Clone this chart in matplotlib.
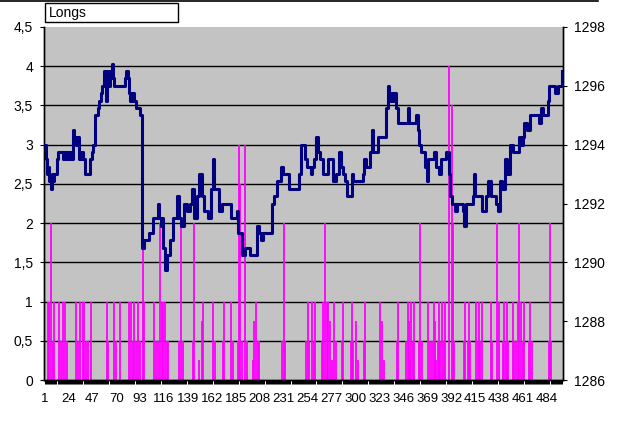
import numpy as np
import matplotlib
matplotlib.use("Agg")
import matplotlib.pyplot as plt
from matplotlib.lines import Line2D
from matplotlib.patches import Rectangle

# price line (right axis): category number -> price
price_cat = [1, 2, 3, 4, 5, 7, 8, 9, 10, 12, 13, 14, 16, 18, 19, 21, 23, 25, 26, 28,
             29, 31, 33, 34, 36, 38, 39, 40, 42, 43, 45, 46, 47, 48, 50, 52, 53, 55, 56, 57,
             58, 59, 60, 61, 62, 63, 64, 65, 66, 67, 68, 72, 77, 78, 79, 80, 81, 82, 83, 85,
             87, 89, 90, 91, 93, 94, 95, 96, 97, 99, 101, 103, 105, 107, 109, 110, 111, 113, 114, 115,
             117, 119, 122, 125, 128, 130, 132, 135, 138, 141, 143, 145, 148, 150, 152, 154, 156, 158, 161, 163,
             164, 167, 169, 172, 175, 177, 180, 183, 186, 187, 189, 191, 194, 197, 199, 204, 205, 207, 209, 211,
             218, 220, 222, 225, 228, 230, 233, 236, 242, 246, 248, 251, 253, 255, 257, 258, 260, 262, 263, 264,
             266, 268, 269, 273, 274, 276, 278, 281, 284, 286, 288, 290, 292, 295, 297, 298, 305, 307, 308, 310,
             313, 314, 316, 317, 321, 322, 327, 329, 331, 332, 334, 336, 337, 339, 340, 341, 343, 345, 348, 350,
             351, 356, 358, 360, 361, 363, 365, 367, 369, 370, 374, 375, 377, 379, 380, 382, 385, 387, 389, 390,
             391, 393, 396, 398, 401, 403, 404, 406, 411, 413, 414, 415, 417, 418, 420, 422, 423, 425, 427, 428,
             430, 432, 435, 437, 438, 439, 441, 444, 446, 449, 451, 454, 456, 457, 459, 461, 462, 464, 465, 466,
             468, 470, 473, 475, 476, 478, 480, 483, 485, 486, 490, 492, 494, 495, 497, 499]
price = [1294.0, 1293.5, 1293.0, 1293.25, 1292.75, 1292.5, 1293.0, 1292.75, 1293.0, 1293.0,
         1293.5, 1293.75, 1293.75, 1293.75, 1293.5, 1293.75, 1293.5, 1293.75, 1293.5, 1294.5,
         1294.25, 1294.0, 1294.25, 1293.5, 1293.75, 1293.5, 1293.5, 1293.0, 1293.0, 1293.0,
         1293.5, 1293.5, 1293.75, 1294.0, 1295.0, 1295.25, 1295.5, 1295.75, 1296.0, 1296.0,
         1296.5, 1296.25, 1295.5, 1296.5, 1296.25, 1296.0, 1296.5, 1296.25, 1296.75, 1296.25,
         1296.0, 1296.0, 1296.0, 1296.25, 1296.5, 1296.5, 1296.25, 1295.75, 1295.5, 1295.75,
         1295.5, 1295.25, 1295.25, 1295.25, 1295.0, 1295.0, 1290.5, 1290.5, 1290.75, 1290.75,
         1291.0, 1291.0, 1291.5, 1291.5, 1291.5, 1292.0, 1291.5, 1291.25, 1291.5, 1290.5,
         1289.75, 1290.25, 1290.75, 1291.5, 1292.25, 1291.5, 1291.25, 1292.0, 1291.75, 1292.0,
         1292.5, 1291.5, 1292.25, 1293.0, 1292.25, 1291.75, 1291.75, 1291.5, 1292.5, 1293.5,
         1292.5, 1292.5, 1291.75, 1292.0, 1292.0, 1292.0, 1291.5, 1291.5, 1291.75, 1291.0,
         1291.0, 1290.25, 1290.5, 1290.5, 1290.25, 1290.25, 1291.25, 1291.0, 1290.75, 1291.0,
         1291.0, 1292.0, 1292.25, 1292.75, 1293.25, 1293.0, 1293.0, 1292.5, 1292.5, 1293.0,
         1294.0, 1293.5, 1293.25, 1293.25, 1293.0, 1293.25, 1293.5, 1294.25, 1294.25, 1293.75,
         1293.5, 1293.5, 1293.0, 1293.0, 1293.5, 1293.5, 1292.75, 1293.0, 1293.75, 1293.25,
         1293.0, 1292.75, 1292.25, 1292.25, 1293.0, 1292.75, 1292.75, 1293.0, 1293.5, 1293.25,
         1293.25, 1293.75, 1294.5, 1293.75, 1293.75, 1294.25, 1294.25, 1295.25, 1296.0, 1295.5,
         1295.75, 1295.5, 1295.75, 1295.25, 1295.25, 1294.75, 1294.75, 1294.75, 1294.75, 1295.25,
         1294.75, 1294.75, 1295.0, 1294.5, 1294.0, 1293.75, 1293.75, 1293.25, 1292.75, 1293.5,
         1293.5, 1293.75, 1293.25, 1293.25, 1293.0, 1293.5, 1293.5, 1293.75, 1293.75, 1293.0,
         1292.25, 1292.0, 1291.75, 1292.0, 1292.0, 1291.75, 1291.25, 1292.0, 1292.0, 1292.25,
         1293.0, 1292.25, 1292.25, 1292.25, 1292.25, 1291.75, 1291.75, 1292.25, 1292.75, 1292.75,
         1292.25, 1292.25, 1292.0, 1291.75, 1291.75, 1292.75, 1292.5, 1293.5, 1293.0, 1294.0,
         1293.75, 1293.75, 1293.75, 1294.25, 1294.0, 1294.25, 1294.75, 1294.75, 1294.5, 1294.5,
         1295.0, 1295.0, 1295.0, 1295.0, 1294.75, 1295.25, 1295.0, 1295.0, 1295.5, 1296.0,
         1296.0, 1295.75, 1295.75, 1296.0, 1296.0, 1296.5]

# longs spikes (left axis): category number -> value
bar_cat = [4, 5, 7, 9, 10, 15, 17, 19, 21, 23, 31, 33, 35, 38, 39, 41, 43, 46, 61, 62,
           68, 70, 74, 82, 84, 86, 87, 89, 91, 93, 96, 97, 106, 108, 110, 112, 114, 115, 117, 119,
           120, 130, 132, 134, 144, 145, 150, 152, 153, 163, 165, 173, 174, 180, 182, 187, 188, 189, 191, 194,
           196, 201, 202, 204, 206, 207, 229, 231, 232, 252, 254, 255, 258, 260, 261, 268, 269, 271, 273, 274,
           275, 277, 279, 281, 287, 288, 296, 297, 298, 300, 302, 308, 309, 324, 325, 327, 340, 341, 349, 350,
           351, 352, 353, 355, 356, 361, 362, 364, 370, 372, 374, 375, 376, 377, 379, 380, 381, 383, 385, 386,
           390, 393, 394, 395, 404, 405, 408, 409, 410, 416, 418, 419, 420, 422, 430, 431, 436, 438, 442, 443,
           445, 446, 447, 451, 452, 454, 456, 457, 459, 461, 462, 467, 468, 470, 486, 487, 488]
bar_val = [1.0, 1.0, 2.0, 0.5, 1.0, 1.0, 0.5, 1.0, 1.0, 0.5, 1.0, 0.5, 1.0, 1.0, 1.0, 0.5, 0.5, 1.0, 1.0, 0.5,
           1.0, 0.5, 1.0, 1.0, 1.0, 0.5, 1.0, 0.5, 1.0, 0.5, 2.0, 1.0, 1.0, 0.5, 0.5, 2.0, 1.0, 1.0, 1.0, 0.5,
           0.5, 0.5, 2.0, 0.5, 0.5, 2.0, 0.25, 0.75, 1.0, 1.0, 0.5, 0.5, 1.0, 1.0, 0.5, 0.5, 3.0, 2.5, 0.5, 3.0,
           0.5, 0.25, 0.75, 1.0, 0.5, 0.5, 0.5, 2.0, 0.5, 0.5, 1.0, 0.5, 1.0, 0.5, 1.0, 0.5, 1.0, 2.0, 1.0, 1.0,
           0.75, 0.25, 1.0, 0.5, 0.5, 1.0, 0.5, 1.0, 0.5, 0.75, 0.25, 0.5, 1.0, 1.0, 0.75, 0.25, 0.5, 1.0, 0.5, 1.0,
           0.75, 0.25, 1.0, 0.5, 1.0, 0.5, 2.0, 0.5, 1.0, 0.5, 0.5, 1.0, 0.75, 0.25, 0.5, 1.0, 0.5, 1.0, 0.5, 1.0,
           4.0, 3.5, 2.0, 0.5, 0.5, 1.0, 0.5, 1.0, 0.5, 1.0, 0.5, 1.0, 0.5, 1.0, 1.0, 0.5, 2.0, 1.0, 0.5, 1.0,
           0.5, 1.0, 0.5, 1.0, 0.5, 0.5, 1.0, 2.0, 1.0, 0.5, 1.0, 0.5, 1.0, 0.5, 0.5, 2.0, 0.5]

x_labels = [1, 24, 47, 70, 93, 116, 139, 162, 185, 208, 231, 254, 277, 300, 323, 346,
            369, 392, 415, 438, 461, 484]
n_cat = 499

plt.rcParams["font.family"] = ["Liberation Sans", "DejaVu Sans"]
plt.rcParams["font.size"] = 9.5

fig = plt.figure(figsize=(6.4, 4.21), dpi=100)
ax = fig.add_axes([44 / 640, 1 - 380 / 421, 519 / 640, 353 / 421])
ax.set_facecolor("#c3c3c3")
ax.set_xlim(0.5, n_cat + 0.5)
ax.set_ylim(0, 4.5)

yt = np.arange(0, 4.51, 0.5)
ax.set_yticks(yt)
ax.set_yticklabels([f"{v:g}".replace(".", ",") for v in yt])
for v in yt[1:-1]:
    ax.axhline(v, color="black", lw=1.0, zorder=1)

ax.vlines(bar_cat, 0, bar_val, colors="#ff00ff", lw=1.3, zorder=2)

ax.set_xticks(x_labels)
ax.set_xticklabels([str(v) for v in x_labels])
ax.set_xticks(np.arange(1.5, n_cat, 1), minor=True)
ax.tick_params(axis="x", which="major", length=0, pad=9)
ax.tick_params(axis="x", which="minor", length=3, width=0.75, color="black")
ax.tick_params(axis="y", length=3, width=0.8, pad=5, labelsize=10)
ax.spines["top"].set_visible(False)

ax2 = ax.twinx()
ax2.set_ylim(1286, 1298)
ax2.set_yticks(range(1286, 1299, 2))
ax2.tick_params(axis="y", length=3, width=0.8, pad=5, labelsize=10)
ax2.plot(price_cat, price, drawstyle="steps-post", color="#000080", lw=2.2, zorder=3)
ax2.spines["top"].set_visible(False)
for s in ["left", "right", "bottom"]:
    ax.spines[s].set_linewidth(1.0)
    ax2.spines[s].set_linewidth(1.0)

# title box
fig.patches.append(Rectangle((45 / 640, 1 - 22 / 421), 133 / 640, 19 / 421,
                             transform=fig.transFigure, facecolor="white",
                             edgecolor="black", lw=1.0))
fig.text(49 / 640, 1 - 13 / 421, "Longs", ha="left", va="center", fontsize=10)

# cut-off edge of the chart above
fig.lines.append(Line2D([0, 598 / 640], [1 - 0.6 / 421, 1 - 0.6 / 421],
                        transform=fig.transFigure, color="black", lw=1.2))

fig.savefig("out.png", dpi=100, facecolor="white")
